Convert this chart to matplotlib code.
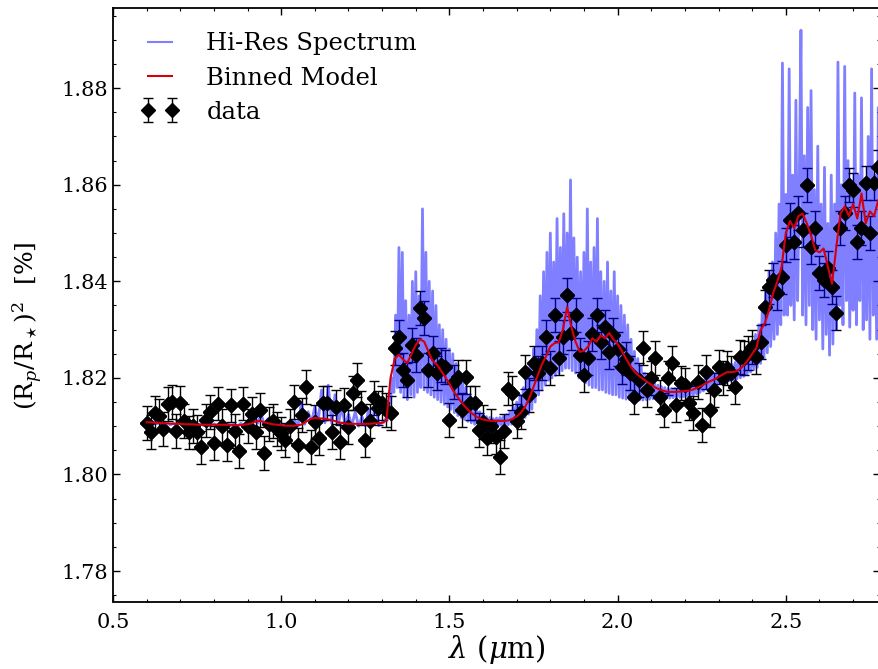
import numpy as np
import matplotlib
matplotlib.use("Agg")
import matplotlib.pyplot as plt
from matplotlib.ticker import MultipleLocator, FormatStrFormatter

# ---------------- data ----------------
# binned data points (bin centres start at 0.6 um, 0.0125 um apart)
data_y = [
    1.8107, 1.8088, 1.8128, 1.8122, 1.8094, 1.8146, 1.8150, 1.8090,
    1.8148, 1.8110, 1.8087, 1.8100, 1.8088, 1.8056, 1.8112, 1.8130,
    1.8066, 1.8147, 1.8100, 1.8062, 1.8143, 1.8090, 1.8048, 1.8147,
    1.8100, 1.8125, 1.8088, 1.8134, 1.8045, 1.8105, 1.8110, 1.8095,
    1.8085, 1.8071, 1.8100, 1.8150, 1.8061, 1.8123, 1.8181, 1.8057,
    1.8108, 1.8075, 1.8148, 1.8148, 1.8088, 1.8140, 1.8067, 1.8144,
    1.8098, 1.8169, 1.8195, 1.8137, 1.8071, 1.8110, 1.8158, 1.8137,
    1.8148, 1.8133, 1.8127, 1.8262, 1.8284, 1.8216, 1.8195, 1.8268,
    1.8247, 1.8345, 1.8324, 1.8216, 1.8251, 1.8210, 1.8227, 1.8222,
    1.8113, 1.8191, 1.8202, 1.8133, 1.8202, 1.8148, 1.8148, 1.8092,
    1.8108, 1.8075, 1.8100, 1.8077, 1.8036, 1.8090, 1.8178, 1.8168,
    1.8110, 1.8130, 1.8212, 1.8165, 1.8231, 1.8210, 1.8231, 1.8284,
    1.8220, 1.8330, 1.8241, 1.8284, 1.8371, 1.8293, 1.8330, 1.8247,
    1.8206, 1.8241, 1.8290, 1.8330, 1.8274, 1.8305, 1.8253, 1.8289,
    1.8260, 1.8222, 1.8240, 1.8210, 1.8160, 1.8195, 1.8262, 1.8175,
    1.8200, 1.8241, 1.8160, 1.8133, 1.8200, 1.8231, 1.8144, 1.8189,
    1.8185, 1.8148, 1.8127, 1.8191, 1.8102, 1.8212, 1.8133, 1.8175,
    1.8222, 1.8200, 1.8220, 1.8210, 1.8181, 1.8243, 1.8241, 1.8251,
    1.8264, 1.8243, 1.8274, 1.8347, 1.8388, 1.8402, 1.8376, 1.8408,
    1.8475, 1.8527, 1.8481, 1.8541, 1.8506, 1.8600, 1.8471, 1.8510,
    1.8417, 1.8402, 1.8427, 1.8388, 1.8334, 1.8510, 1.8541, 1.8600,
    1.8589, 1.8481, 1.8510, 1.8603, 1.8500, 1.8603, 1.8636,
]
data_err = 0.0035

model_y = [
    1.8108, 1.8108, 1.8107, 1.8107, 1.8106, 1.8106, 1.8105, 1.8105,
    1.8105, 1.8104, 1.8104, 1.8104, 1.8103, 1.8103, 1.8103, 1.8103,
    1.8103, 1.8103, 1.8103, 1.8103, 1.8103, 1.8102, 1.8102, 1.8103,
    1.8104, 1.8106, 1.8110, 1.8111, 1.8108, 1.8106, 1.8104, 1.8103,
    1.8102, 1.8101, 1.8101, 1.8101, 1.8102, 1.8104, 1.8110, 1.8115,
    1.8117, 1.8116, 1.8116, 1.8114, 1.8113, 1.8110, 1.8107, 1.8106,
    1.8105, 1.8105, 1.8105, 1.8104, 1.8105, 1.8105, 1.8106, 1.8106,
    1.8107, 1.8112, 1.8200, 1.8240, 1.8248, 1.8238, 1.8231, 1.8250,
    1.8268, 1.8280, 1.8275, 1.8255, 1.8235, 1.8228, 1.8215, 1.8202,
    1.8188, 1.8172, 1.8160, 1.8148, 1.8138, 1.8129, 1.8122, 1.8117,
    1.8114, 1.8112, 1.8111, 1.8111, 1.8111, 1.8111, 1.8112, 1.8115,
    1.8120, 1.8128, 1.8140, 1.8158, 1.8181, 1.8205, 1.8228, 1.8245,
    1.8265, 1.8272, 1.8274, 1.8300, 1.8347, 1.8305, 1.8275, 1.8254,
    1.8256, 1.8265, 1.8282, 1.8275, 1.8288, 1.8282, 1.8293, 1.8280,
    1.8270, 1.8256, 1.8240, 1.8225, 1.8213, 1.8205, 1.8198, 1.8192,
    1.8186, 1.8180, 1.8176, 1.8173, 1.8171, 1.8171, 1.8171, 1.8172,
    1.8173, 1.8174, 1.8176, 1.8180, 1.8184, 1.8189, 1.8193, 1.8197,
    1.8202, 1.8207, 1.8212, 1.8212, 1.8213, 1.8218, 1.8226, 1.8237,
    1.8250, 1.8262, 1.8299, 1.8313, 1.8340, 1.8376, 1.8400, 1.8430,
    1.8500, 1.8525, 1.8510, 1.8535, 1.8540, 1.8520, 1.8495, 1.8465,
    1.8460, 1.8468, 1.8430, 1.8395, 1.8470, 1.8540, 1.8555, 1.8535,
    1.8560, 1.8530, 1.8582, 1.8520, 1.8545, 1.8535, 1.8568,
]

# hi-res spectrum, part 1: 0.60-1.30 um every 0.01 um
hires_y1 = [
    1.8110, 1.8106, 1.8109, 1.8105, 1.8108, 1.8104, 1.8107, 1.8103, 1.8106, 1.8104,
    1.8106, 1.8102, 1.8105, 1.8101, 1.8104, 1.8102, 1.8105, 1.8101, 1.8104, 1.8102,
    1.8105, 1.8101, 1.8104, 1.8100, 1.8105, 1.8101, 1.8104, 1.8100, 1.8106, 1.8101,
    1.8108, 1.8103, 1.8118, 1.8106, 1.8125, 1.8104, 1.8115, 1.8101, 1.8108, 1.8100,
    1.8104, 1.8099, 1.8108, 1.8098, 1.8112, 1.8100, 1.8150, 1.8104, 1.8130, 1.8108,
    1.8140, 1.8109, 1.8175, 1.8107, 1.8185, 1.8106, 1.8165, 1.8104, 1.8140, 1.8102,
    1.8125, 1.8101, 1.8130, 1.8100, 1.8120, 1.8101, 1.8135, 1.8100, 1.8150, 1.8101,
    1.8108,
]
# hi-res spectrum, part 2: 1.305-2.78 um every 0.005 um
hires_y2 = [
    1.8108, 1.8115, 1.8112, 1.8140, 1.8150, 1.8200, 1.8170, 1.8330, 1.8180, 1.8470,
    1.8170, 1.8460, 1.8160, 1.8360, 1.8155, 1.8330, 1.8165, 1.8400, 1.8160, 1.8420,
    1.8170, 1.8370, 1.8180, 1.8550, 1.8175, 1.8460, 1.8170, 1.8400, 1.8165, 1.8380,
    1.8160, 1.8350, 1.8155, 1.8310, 1.8150, 1.8300, 1.8145, 1.8280, 1.8140, 1.8260,
    1.8135, 1.8250, 1.8128, 1.8230, 1.8122, 1.8210, 1.8118, 1.8195, 1.8114, 1.8180,
    1.8110, 1.8165, 1.8107, 1.8150, 1.8104, 1.8140, 1.8103, 1.8130, 1.8102, 1.8125,
    1.8101, 1.8120, 1.8100, 1.8118, 1.8100, 1.8116, 1.8100, 1.8117, 1.8101, 1.8118,
    1.8101, 1.8120, 1.8102, 1.8124, 1.8103, 1.8130, 1.8104, 1.8140, 1.8106, 1.8150,
    1.8108, 1.8165, 1.8112, 1.8180, 1.8118, 1.8200, 1.8125, 1.8230, 1.8135, 1.8260,
    1.8150, 1.8300, 1.8165, 1.8370, 1.8175, 1.8420, 1.8185, 1.8460, 1.8195, 1.8500,
    1.8200, 1.8440, 1.8205, 1.8530, 1.8210, 1.8470, 1.8215, 1.8540, 1.8220, 1.8500,
    1.8220, 1.8610, 1.8215, 1.8490, 1.8210, 1.8450, 1.8200, 1.8420, 1.8195, 1.8460,
    1.8190, 1.8550, 1.8185, 1.8440, 1.8180, 1.8470, 1.8180, 1.8530, 1.8175, 1.8420,
    1.8175, 1.8400, 1.8170, 1.8440, 1.8168, 1.8380, 1.8165, 1.8420, 1.8165, 1.8370,
    1.8160, 1.8350, 1.8158, 1.8330, 1.8156, 1.8310, 1.8155, 1.8280, 1.8154, 1.8255,
    1.8154, 1.8240, 1.8154, 1.8225, 1.8154, 1.8210, 1.8155, 1.8200, 1.8156, 1.8195,
    1.8157, 1.8190, 1.8158, 1.8185, 1.8158, 1.8182, 1.8158, 1.8180, 1.8158, 1.8178,
    1.8158, 1.8178, 1.8159, 1.8178, 1.8159, 1.8180, 1.8160, 1.8180, 1.8161, 1.8181,
    1.8162, 1.8182, 1.8163, 1.8184, 1.8165, 1.8186, 1.8167, 1.8190, 1.8170, 1.8194,
    1.8173, 1.8198, 1.8176, 1.8202, 1.8179, 1.8206, 1.8182, 1.8210, 1.8185, 1.8214,
    1.8188, 1.8218, 1.8190, 1.8222, 1.8192, 1.8225, 1.8194, 1.8228, 1.8196, 1.8232,
    1.8198, 1.8236, 1.8200, 1.8242, 1.8203, 1.8250, 1.8207, 1.8262, 1.8212, 1.8275,
    1.8217, 1.8290, 1.8222, 1.8310, 1.8230, 1.8340, 1.8240, 1.8380, 1.8252, 1.8420,
    1.8265, 1.8440, 1.8280, 1.8500, 1.8290, 1.8560, 1.8310, 1.8852, 1.8330, 1.8580,
    1.8330, 1.8840, 1.8350, 1.8620, 1.8320, 1.8775, 1.8360, 1.8600, 1.8920, 1.8330,
    1.8660, 1.8310, 1.8760, 1.8350, 1.8795, 1.8300, 1.8590, 1.8280, 1.8680, 1.8320,
    1.8560, 1.8260, 1.8636, 1.8290, 1.8520, 1.8247, 1.8620, 1.8270, 1.8560, 1.8300,
    1.8854, 1.8350, 1.8600, 1.8310, 1.8845, 1.8360, 1.8650, 1.8305, 1.8580, 1.8340,
    1.8790, 1.8310, 1.8620, 1.8360, 1.8780, 1.8300, 1.8600, 1.8320, 1.8700, 1.8280,
    1.8840, 1.8330, 1.8620, 1.8280, 1.8760, 1.8350,
]

data_x = 0.6 + 0.0125 * np.arange(len(data_y))
hires_x = np.concatenate([0.60 + 0.01 * np.arange(len(hires_y1)),
                          1.305 + 0.005 * np.arange(len(hires_y2))])
hires_y = np.array(hires_y1 + hires_y2)

x_ticks = [0.5, 1.0, 1.5, 2.0, 2.5]
y_ticks = [1.78, 1.80, 1.82, 1.84, 1.86, 1.88]

# ---------------- style ----------------
plt.rcParams['font.family'] = ['DejaVu Serif']
plt.rcParams['mathtext.fontset'] = 'dejavuserif'

fig = plt.figure(figsize=(8.79, 6.69), dpi=100)
ax = fig.add_axes([113 / 879, 1 - 601.5 / 669, (880 - 113) / 879, (601.5 - 8) / 669])

eb = ax.errorbar(data_x, data_y, yerr=data_err, fmt='D', color='black', ms=7.5,
                 ecolor='black', elinewidth=1.0, capsize=3.5, capthick=1.0,
                 zorder=1, label='data')
hr, = ax.plot(hires_x, hires_y, color='blue', alpha=0.5, lw=2.0, zorder=2,
              label='Hi-Res Spectrum')
ax.plot(data_x, data_y, 'D', color='black', ms=7.5, zorder=3)
md, = ax.plot(data_x, model_y, color='#d40010', lw=1.5, zorder=4,
              label='Binned Model')

ax.set_xlim(0.5, 2.78)
ax.set_ylim(1.7737, 1.8966)
ax.set_xticks(x_ticks)
ax.set_yticks(y_ticks)
ax.xaxis.set_minor_locator(MultipleLocator(0.1))
ax.yaxis.set_minor_locator(MultipleLocator(0.005))
ax.xaxis.set_major_formatter(FormatStrFormatter('%.1f'))
ax.yaxis.set_major_formatter(FormatStrFormatter('%.2f'))
ax.tick_params(which='both', direction='in', top=True, right=True, labelsize=15)
ax.tick_params(which='major', length=5, width=1)
ax.tick_params(which='minor', length=2.5, width=0.8)
ax.tick_params(axis='x', pad=8)
for s in ax.spines.values():
    s.set_linewidth(1.3)

ax.set_xlabel(r'$\lambda$ ($\mu$m)', fontsize=21, labelpad=1)
ax.set_ylabel(r'$(\mathrm{R}_p/\mathrm{R}_\star)^2$  [%]', fontsize=18)
ax.yaxis.set_label_coords(-0.089, 0.465)

hr_leg = plt.Line2D([], [], color='#8080ff', lw=1.5)
md_leg = plt.Line2D([], [], color='#d40010', lw=1.5)
ax.legend([hr_leg, md_leg, eb], ['Hi-Res Spectrum', 'Binned Model', 'data'],
          loc='upper left', bbox_to_anchor=(0.033, 0.963), borderaxespad=0.0,
          frameon=False, numpoints=2, fontsize=17.5,
          handlelength=1.6, handletextpad=1.1, labelspacing=0.46,
          borderpad=0.1)

fig.savefig('out.png', dpi=100)
